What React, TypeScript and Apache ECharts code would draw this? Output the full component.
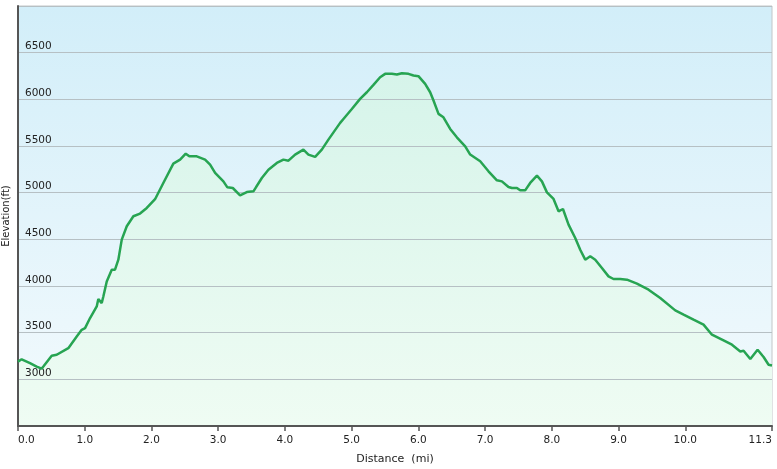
import React, { useEffect, useRef } from "react";
import * as echarts from "echarts";

const distance = [
  0.0, 0.055, 0.18, 0.28, 0.355, 0.38, 0.505, 0.58, 0.754, 0.88, 0.955, 1.005, 1.08, 1.18, 1.204, 1.255,
  1.279, 1.33, 1.405, 1.454, 1.504, 1.555, 1.63, 1.729, 1.829, 1.93, 2.054, 2.178, 2.328, 2.429, 2.514,
  2.568, 2.679, 2.804, 2.879, 2.954, 3.078, 3.138, 3.219, 3.328, 3.429, 3.528, 3.654, 3.753, 3.879, 3.978,
  4.053, 4.153, 4.277, 4.352, 4.453, 4.553, 4.652, 4.828, 4.877, 5.003, 5.127, 5.228, 5.327, 5.427, 5.502,
  5.603, 5.678, 5.753, 5.852, 5.927, 6.001, 6.102, 6.177, 6.227, 6.302, 6.376, 6.477, 6.577, 6.702, 6.777,
  6.927, 7.051, 7.177, 7.252, 7.351, 7.402, 7.477, 7.526, 7.601, 7.676, 7.777, 7.852, 7.927, 8.026, 8.101,
  8.167, 8.251, 8.351, 8.426, 8.501, 8.576, 8.651, 8.751, 8.85, 8.925, 9.025, 9.126, 9.276, 9.45, 9.625,
  9.85, 9.975, 10.124, 10.274, 10.4, 10.574, 10.7, 10.825, 10.874, 10.975, 11.084, 11.174, 11.249, 11.3,
];

const elevation = [
  3190, 3215, 3173, 3137, 3115, 3137, 3253, 3263, 3334, 3459, 3531, 3549, 3657, 3781, 3860, 3817,
  3888, 4049, 4175, 4175, 4282, 4497, 4640, 4747, 4776, 4836, 4930, 5104, 5311, 5354, 5418,
  5389, 5389, 5354, 5300, 5211, 5121, 5057, 5050, 4971, 5007, 5014, 5157, 5246, 5318, 5354,
  5343, 5408, 5461, 5408, 5383, 5461, 5568, 5748, 5790, 5897, 6005, 6076, 6155, 6237, 6273,
  6273, 6266, 6280, 6273, 6255, 6248, 6165, 6076, 5987, 5844, 5808, 5683, 5593, 5497, 5408,
  5336, 5229, 5132, 5121, 5061, 5050, 5050, 5025, 5025, 5104, 5182, 5121, 5003, 4933, 4800,
  4825, 4657, 4514, 4389, 4282, 4318, 4282, 4193, 4103, 4075, 4075, 4068, 4025, 3961, 3871,
  3739, 3693, 3639, 3586, 3478, 3417, 3371, 3299, 3307, 3217, 3317, 3239, 3156, 3149,
];

const xTickValues = [0, 1, 2, 3, 4, 5, 6, 7, 8, 9, 10, 11.3];

export default function App() {
  const ref = useRef<HTMLDivElement>(null);

  useEffect(() => {
    if (!ref.current) return;
    const chart = echarts.init(ref.current, null, { renderer: "svg" });
    const font = "DejaVu Sans";
    const points = distance.map((d, i) => [d, elevation[i]]);
    chart.setOption({
      animation: false,
      grid: {
        left: 18,
        right: 5,
        top: 6,
        bottom: 43,
        containLabel: false,
        outerBoundsMode: "none",
        show: true,
        borderColor: "#c2c6c8",
        borderWidth: 1,
        backgroundColor: new echarts.graphic.LinearGradient(0, 0, 0, 1, [
          { offset: 0, color: "#d2eef9" },
          { offset: 1, color: "#f3fafd" },
        ]),
      },
      xAxis: {
        type: "value",
        min: 0,
        max: 11.3,
        z: 5,
        name: "Distance  (mi)",
        nameLocation: "middle",
        nameGap: 27,
        nameTextStyle: { fontFamily: font, fontSize: 11, color: "#222" },
        axisLine: { show: true, onZero: false, lineStyle: { color: "#555", width: 2 } },
        axisTick: {
          show: true,
          length: 5,
          customValues: xTickValues,
          lineStyle: { color: "#555", width: 1.5 },
        },
        axisLabel: {
          customValues: xTickValues,
          formatter: (v: number) => v.toFixed(1),
          fontFamily: font,
          fontSize: 10.5,
          color: "#222",
          margin: 7,
          alignMinLabel: "left",
          alignMaxLabel: "right",
        },
        splitLine: { show: false },
      },
      yAxis: {
        type: "value",
        min: 2500,
        max: 7000,
        interval: 500,
        z: 3,
        name: "Elevation(ft)",
        nameLocation: "middle",
        nameGap: 4,
        nameTextStyle: { fontFamily: font, fontSize: 10, color: "#222" },
        axisLine: { show: true, onZero: false, lineStyle: { color: "#555", width: 2 } },
        axisTick: { show: false },
        axisLabel: {
          inside: true,
          showMinLabel: false,
          showMaxLabel: false,
          verticalAlign: "bottom",
          margin: 7,
          padding: [0, 0, 2, 0],
          fontFamily: font,
          fontSize: 10.5,
          color: "#222",
          formatter: (v: number) => String(v),
        },
        splitLine: { show: true, lineStyle: { color: "#b6c0c4", width: 1 } },
      },
      series: [
        {
          type: "line",
          data: points,
          showSymbol: false,
          symbol: "none",
          lineStyle: { width: 0 },
          areaStyle: {
            color: new echarts.graphic.LinearGradient(0, 0, 0, 1, [
              { offset: 0, color: "#d6f4ea" },
              { offset: 1, color: "#effcf3" },
            ]),
            opacity: 1,
            origin: "start",
          },
          z: 2,
        },
        {
          type: "line",
          data: points,
          showSymbol: false,
          symbol: "none",
          lineStyle: { color: "#27a452", width: 2.5 },
          z: 6,
        },
      ],
    });
    return () => chart.dispose();
  }, []);

  return (
    <div
      ref={ref}
      style={{ position: "fixed", left: 0, top: 0, width: 777, height: 469 }}
    />
  );
}
